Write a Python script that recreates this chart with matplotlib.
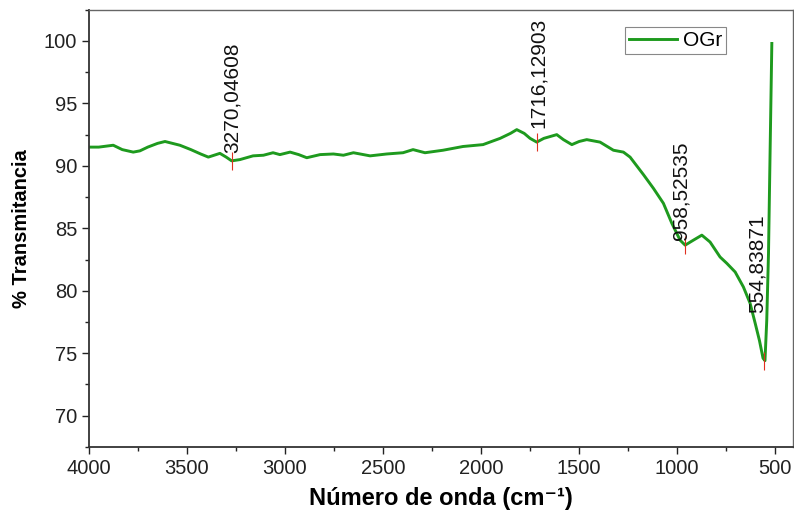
import matplotlib
matplotlib.use('Agg')
import matplotlib.pyplot as plt
from matplotlib.ticker import MultipleLocator

plt.rcParams['font.family'] = ['Liberation Sans', 'DejaVu Sans']

# FTIR spectrum of OGr (wavenumber in cm-1, % transmittance)
wavenumber = [4000, 3950, 3876, 3830, 3774, 3740, 3700, 3650, 3612, 3536,
              3480, 3430, 3391, 3332, 3300, 3272, 3230, 3163, 3110, 3061,
              3026, 2974, 2930, 2889, 2821, 2753, 2702, 2651, 2600, 2566,
              2481, 2398, 2347, 2286, 2194, 2092, 1990, 1903, 1850, 1818,
              1780, 1750, 1716, 1680, 1614, 1580, 1537, 1500, 1461, 1393,
              1325, 1274, 1240, 1172, 1121, 1070, 1027, 985, 959, 917,
              874, 832, 781, 747, 704, 662, 628, 602, 580, 562,
              552, 543, 534, 526, 517]
transmittance = [91.5, 91.5, 91.65, 91.3, 91.1, 91.2, 91.5, 91.8, 91.95, 91.65,
                 91.3, 90.95, 90.7, 91.0, 90.7, 90.4, 90.5, 90.8, 90.85, 91.05,
                 90.9, 91.1, 90.9, 90.65, 90.9, 90.95, 90.85, 91.05, 90.9, 90.8,
                 90.95, 91.05, 91.3, 91.05, 91.25, 91.55, 91.7, 92.2, 92.6, 92.9,
                 92.6, 92.2, 91.9, 92.2, 92.5, 92.1, 91.7, 91.95, 92.1, 91.9,
                 91.25, 91.1, 90.7, 89.3, 88.2, 87.0, 85.4, 84.05, 83.65, 84.05,
                 84.45, 83.9, 82.7, 82.2, 81.5, 80.3, 79.0, 77.4, 76.0, 74.6,
                 74.4, 77.6, 83.0, 91.0, 99.8]

peak_x = [3270.04608, 1716.12903, 958.52535, 554.83871]
peak_y = [90.4, 91.9, 83.65, 74.4]
peak_labels = ['3270,04608', '1716,12903', '958,52535', '554,83871']

fig = plt.figure(figsize=(7.94, 5.13), dpi=100)
ax = fig.add_axes([0.112, 0.129, 0.887, 0.852])

ax.plot(wavenumber, transmittance, color='#1e9a1e', linewidth=2.1, label='OGr')
ax.plot(peak_x, peak_y, linestyle='none', marker='|', color='#e03020',
        markersize=13, markeredgewidth=0.8)

# peak labels sit above each band, rotated vertically
label_dx = [0, -8, 22, 38]
label_dy = [0.6, 1.1, 0.4, 3.8]
for px, py, txt, dx, dy in zip(peak_x, peak_y, peak_labels, label_dx, label_dy):
    ax.text(px + dx, py + dy, txt, rotation=90, ha='center', va='bottom',
            fontsize=15, color='#111111')

ax.set_xlim(4000, 408)
ax.set_ylim(67.5, 102.5)
ax.xaxis.set_major_locator(MultipleLocator(500))
ax.xaxis.set_minor_locator(MultipleLocator(250))
ax.yaxis.set_major_locator(MultipleLocator(5))
ax.yaxis.set_minor_locator(MultipleLocator(2.5))
ax.tick_params(which='both', direction='out', top=False, right=False, labelsize=14.5,
               colors='#222222')
ax.tick_params(which='major', length=5, width=1)
ax.tick_params(which='minor', length=3, width=1)

for side in ['left', 'bottom']:
    ax.spines[side].set_color('#333333')
    ax.spines[side].set_linewidth(1.3)
for side in ['top', 'right']:
    ax.spines[side].set_color('#666666')
    ax.spines[side].set_linewidth(1.0)

ax.set_ylabel('% Transmitancia', fontsize=14.5, fontweight='bold', labelpad=9)
ax.set_xlabel('Número de onda (cm⁻¹)', fontsize=17, fontweight='bold', labelpad=7)

leg = ax.legend(loc='upper right', bbox_to_anchor=(0.92, 0.985), fontsize=15,
                handlelength=2.3, handletextpad=0.3, borderpad=0.2,
                fancybox=False, framealpha=1)
leg.get_frame().set_edgecolor('#888888')
leg.get_frame().set_linewidth(0.8)

fig.savefig('out.png', dpi=100)
